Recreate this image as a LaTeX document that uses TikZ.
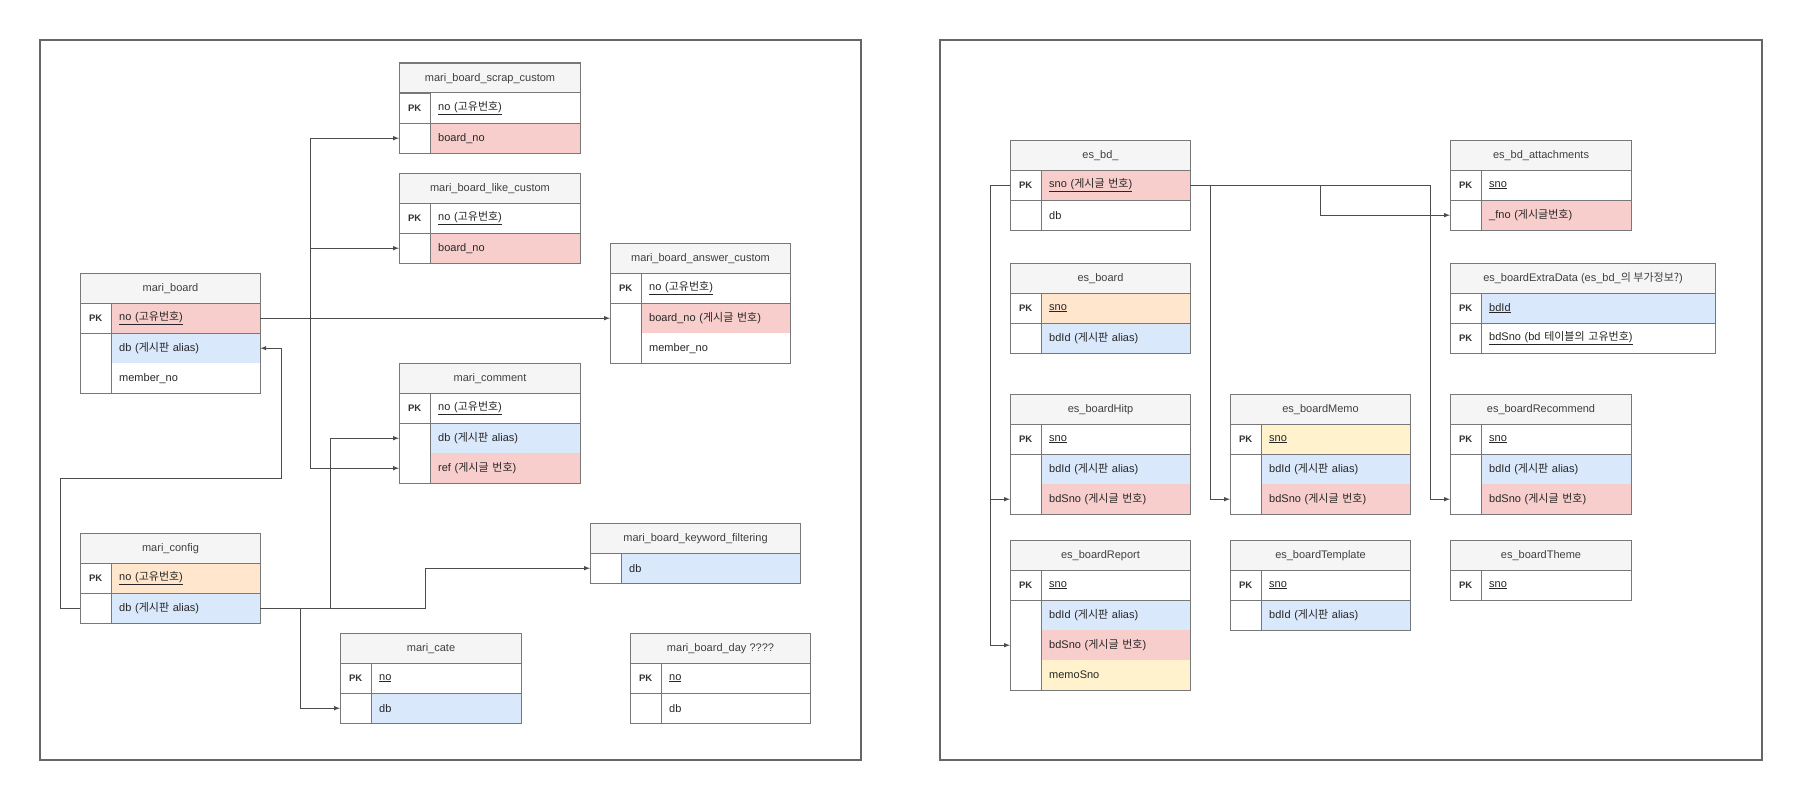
\documentclass[tikz,border=0pt]{standalone}
\usepackage{fontspec}
\setmainfont{Liberation Sans}
\newfontfamily\kr{Noto Sans CJK KR}
\usepackage{tikz}
\usetikzlibrary{arrows,positioning,calc}
\definecolor{myhead}{RGB}{245,245,245}
\definecolor{myred}{RGB}{248,206,204}
\definecolor{myblue}{RGB}{218,232,252}
\definecolor{myorange}{RGB}{255,230,204}
\definecolor{myyellow}{RGB}{255,242,204}
\definecolor{myline}{RGB}{120,120,120}
\tikzstyle{tblhead}=[draw=myline,line width=1pt,fill=myhead,minimum height=30pt,inner sep=0pt,font=\fontsize{11}{13}\selectfont,text=black!75]
\tikzstyle{keycell}=[minimum width=31pt,minimum height=30pt,inner sep=0pt,font=\bfseries\fontsize{9.5}{11}\selectfont,text=black!80]
\tikzstyle{fieldcell}=[minimum height=30pt,inner xsep=8pt,inner ysep=0pt,align=left,font=\fontsize{11}{13}\selectfont,text=black!85]
\tikzstyle{tblborder}=[draw=myline,line width=1pt]
\tikzstyle{panelframe}=[draw=black!60,line width=1.5pt]
\tikzstyle{conn}=[draw=black!70,line width=1pt,-latex]
\newcommand{\ko}[1]{{\kr #1}}
% table: name, x, y, width, title
\newcommand{\tbl}[5]{%
  \def\tabname{#1}\def\tabx{#2}\def\taby{#3}\def\tabw{#4}%
  \pgfmathsetmacro{\tabfw}{#4-47}%
  \node[tblhead,minimum width=#4,anchor=north west] (#1) at (#2,#3) {#5};}
% row: number, key, text, fill
\newcommand{\fld}[4]{%
  \node[keycell,anchor=north west] (\tabname-k#1) at (\tabx,\taby+30*#1) {#2};
  \node[fieldcell,fill=#4,text width=\tabfw pt,anchor=north west] (\tabname-#1) at (\tabx+31,\taby+30*#1) {#3};}
% close: rows, pk rows
\newcommand{\tblend}[2]{%
  \foreach \pk in {0,...,#2} {\draw[tblborder] (\tabx,\taby+30+30*\pk) -- ++(\tabw,0);}
  \draw[tblborder] (\tabx,\taby) rectangle ++(\tabw,30+30*#1);
  \draw[tblborder] (\tabx+31,\taby+30) -- ++(0,30*#1);}
\begin{document}
\begin{tikzpicture}[x=1pt,y=-1pt]
\useasboundingbox (0,0) rectangle (1800,800);
\draw[panelframe] (40,40) rectangle (861,760);
\draw[panelframe] (940,40) rectangle (1762,760);

% mari tables
\tbl{scr}{399}{63}{181}{mari\_board\_scrap\_custom}
\fld{1}{PK}{\underline{no (\ko{고유번호})}}{white}
\fld{2}{}{board\_no}{myred}
\tblend{2}{1}
\tbl{lik}{399}{173}{181}{mari\_board\_like\_custom}
\fld{1}{PK}{\underline{no (\ko{고유번호})}}{white}
\fld{2}{}{board\_no}{myred}
\tblend{2}{1}
\tbl{ans}{610}{243}{180}{mari\_board\_answer\_custom}
\fld{1}{PK}{\underline{no (\ko{고유번호})}}{white}
\fld{2}{}{board\_no (\ko{게시글 번호})}{myred}
\fld{3}{}{member\_no}{white}
\tblend{3}{1}
\tbl{brd}{80}{273}{180}{mari\_board}
\fld{1}{PK}{\underline{no (\ko{고유번호})}}{myred}
\fld{2}{}{db (\ko{게시판} alias)}{myblue}
\fld{3}{}{member\_no}{white}
\tblend{3}{1}
\tbl{cmt}{399}{363}{181}{mari\_comment}
\fld{1}{PK}{\underline{no (\ko{고유번호})}}{white}
\fld{2}{}{db (\ko{게시판} alias)}{myblue}
\fld{3}{}{ref (\ko{게시글 번호})}{myred}
\tblend{3}{1}
\tbl{cfg}{80}{533}{180}{mari\_config}
\fld{1}{PK}{\underline{no (\ko{고유번호})}}{myorange}
\fld{2}{}{db (\ko{게시판} alias)}{myblue}
\tblend{2}{1}
\tbl{kwd}{590}{523}{210}{mari\_board\_keyword\_filtering}
\fld{1}{}{db}{myblue}
\tblend{1}{0}
\tbl{cat}{340}{633}{181}{mari\_cate}
\fld{1}{PK}{\underline{no}}{white}
\fld{2}{}{db}{myblue}
\tblend{2}{1}
\tbl{day}{630}{633}{180}{mari\_board\_day ????}
\fld{1}{PK}{\underline{no}}{white}
\fld{2}{}{db}{white}
\tblend{2}{1}

\draw[conn] (brd-1.east) -- (ans-k2.west);
\draw[conn] (brd-1.east) -- ++(50,0) |- (scr-k2.west);
\draw[conn] (brd-1.east) -- ++(50,0) |- (lik-k2.west);
\draw[conn] (brd-1.east) -- ++(50,0) |- (cmt-k3.west);
\draw[conn] (cfg-k2.west) -- ++(-20,0) -- ++(0,-130) -- ++(221,0) |- (brd-2.east);
\draw[conn] (cfg-2.east) -- ++(165,0) |- (kwd-k1.west);
\draw[conn] (cfg-2.east) -- ++(70,0) |- (cmt-k2.west);
\draw[conn] (cfg-2.east) -- ++(40,0) |- (cat-k2.west);

% es tables
\tbl{bd}{1010}{140}{180}{es\_bd\_}
\fld{1}{PK}{\underline{sno (\ko{게시글 번호})}}{myred}
\fld{2}{}{db}{white}
\tblend{2}{1}
\tbl{att}{1450}{140}{181}{es\_bd\_attachments}
\fld{1}{PK}{\underline{sno}}{white}
\fld{2}{}{\_fno (\ko{게시글번호})}{myred}
\tblend{2}{1}
\tbl{esb}{1010}{263}{180}{es\_board}
\fld{1}{PK}{\underline{sno}}{myorange}
\fld{2}{}{bdId (\ko{게시판} alias)}{myblue}
\tblend{2}{1}
\tbl{ext}{1450}{263}{265}{es\_boardExtraData (es\_bd\_\ko{의 부가정보?})}
\fld{1}{PK}{\underline{bdId}}{myblue}
\fld{2}{PK}{\underline{bdSno (bd \ko{테이블의 고유번호})}}{white}
\tblend{2}{2}
\tbl{hit}{1010}{394}{180}{es\_boardHitp}
\fld{1}{PK}{\underline{sno}}{white}
\fld{2}{}{bdId (\ko{게시판} alias)}{myblue}
\fld{3}{}{bdSno (\ko{게시글 번호})}{myred}
\tblend{3}{1}
\tbl{mem}{1230}{394}{180}{es\_boardMemo}
\fld{1}{PK}{\underline{sno}}{myyellow}
\fld{2}{}{bdId (\ko{게시판} alias)}{myblue}
\fld{3}{}{bdSno (\ko{게시글 번호})}{myred}
\tblend{3}{1}
\tbl{rec}{1450}{394}{181}{es\_boardRecommend}
\fld{1}{PK}{\underline{sno}}{white}
\fld{2}{}{bdId (\ko{게시판} alias)}{myblue}
\fld{3}{}{bdSno (\ko{게시글 번호})}{myred}
\tblend{3}{1}
\tbl{rep}{1010}{540}{180}{es\_boardReport}
\fld{1}{PK}{\underline{sno}}{white}
\fld{2}{}{bdId (\ko{게시판} alias)}{myblue}
\fld{3}{}{bdSno (\ko{게시글 번호})}{myred}
\fld{4}{}{memoSno}{myyellow}
\tblend{4}{1}
\tbl{tpl}{1230}{540}{180}{es\_boardTemplate}
\fld{1}{PK}{\underline{sno}}{white}
\fld{2}{}{bdId (\ko{게시판} alias)}{myblue}
\tblend{2}{1}
\tbl{thm}{1450}{540}{181}{es\_boardTheme}
\fld{1}{PK}{\underline{sno}}{white}
\tblend{1}{1}

\draw[conn] (bd-k1.west) -- ++(-20,0) |- (hit-k3.west);
\draw[conn] (bd-k1.west) -- ++(-20,0) |- (rep-k3.west);
\draw[conn] (bd-1.east) -- ++(20,0) |- (mem-k3.west);
\draw[conn] (bd-1.east) -- ++(130,0) |- (att-k2.west);
\draw[conn] (bd-1.east) -- ++(240,0) |- (rec-k3.west);
\end{tikzpicture}
\end{document}
